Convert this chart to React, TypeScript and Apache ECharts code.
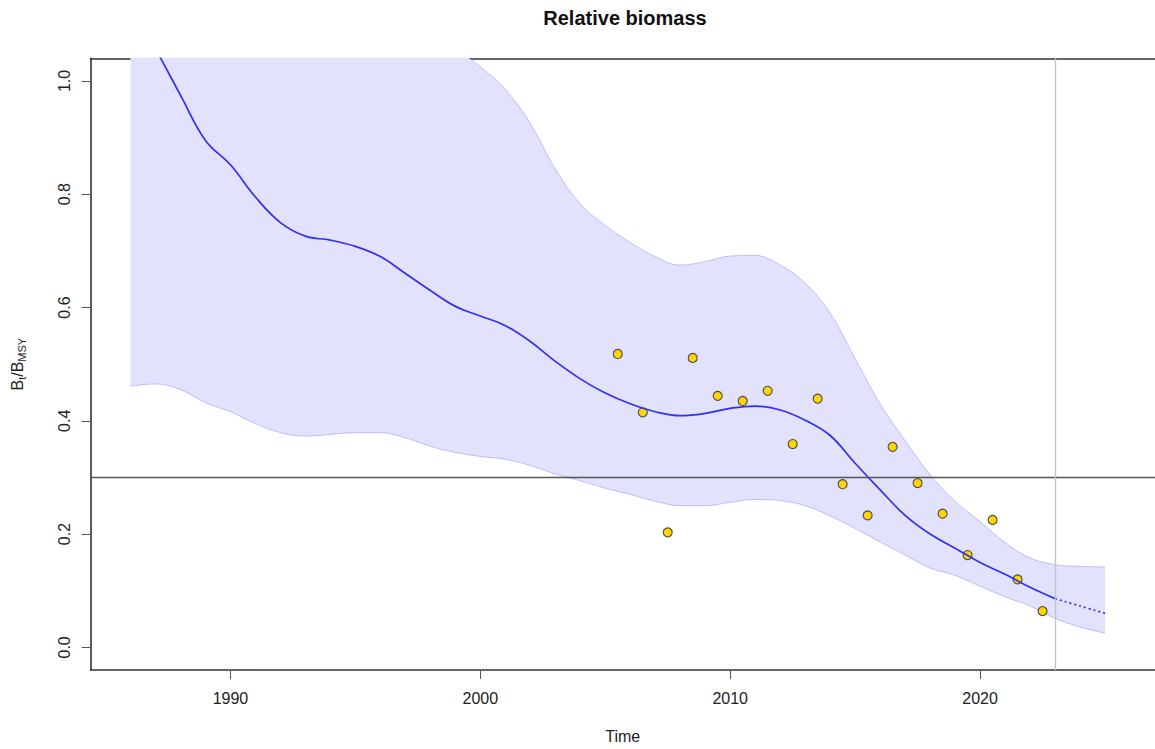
import React, { useEffect, useRef } from "react";
import * as echarts from "echarts";

// Estimated trajectory (B_t / B_MSY), yearly
const years: number[] = [
  1986, 1987, 1988, 1989, 1990, 1991, 1992, 1993, 1994, 1995,
  1996, 1997, 1998, 1999, 2000, 2001, 2002, 2003, 2004, 2005,
  2006, 2007, 2008, 2009, 2010, 2011, 2012, 2013, 2014, 2015,
  2016, 2017, 2018, 2019, 2020, 2021, 2022, 2023, 2024, 2025,
];
const median: number[] = [
  1.135, 1.057, 0.975, 0.895, 0.852, 0.795, 0.75, 0.726, 0.719, 0.708,
  0.69, 0.66, 0.63, 0.602, 0.585, 0.568, 0.54, 0.505, 0.474, 0.449,
  0.43, 0.416, 0.409, 0.413, 0.422, 0.426, 0.419, 0.401, 0.374, 0.325,
  0.278, 0.233, 0.2, 0.175, 0.15, 0.129, 0.106, 0.086, 0.073, 0.06,
];
const upper: number[] = [
  1.8, 1.75, 1.65, 1.55, 1.45, 1.4, 1.35, 1.3, 1.25, 1.22,
  1.18, 1.13, 1.09, 1.058, 1.025, 0.985, 0.925, 0.845, 0.783, 0.745,
  0.715, 0.69, 0.675, 0.681, 0.691, 0.692, 0.675, 0.643, 0.59, 0.51,
  0.43, 0.365, 0.305, 0.258, 0.222, 0.185, 0.158, 0.146, 0.143, 0.142,
];
const lower: number[] = [
  0.461, 0.465, 0.455, 0.432, 0.416, 0.395, 0.379, 0.373, 0.376, 0.379,
  0.379, 0.37, 0.355, 0.344, 0.337, 0.332, 0.321, 0.306, 0.294, 0.281,
  0.27, 0.258, 0.25, 0.25, 0.256, 0.261, 0.259, 0.25, 0.232, 0.21,
  0.186, 0.163, 0.14, 0.127, 0.108, 0.089, 0.073, 0.051, 0.036, 0.025,
];
const lastObservedYear = 2023;

// Observed index points
const obsYears: number[] = [
  2005.5, 2006.5, 2007.5, 2008.5, 2009.5, 2010.5, 2011.5, 2012.5, 2013.5,
  2014.5, 2015.5, 2016.5, 2017.5, 2018.5, 2019.5, 2020.5, 2021.5, 2022.5,
];
const obsValues: number[] = [
  0.518, 0.415, 0.203, 0.511, 0.444, 0.435, 0.453, 0.359, 0.439,
  0.288, 0.233, 0.354, 0.29, 0.236, 0.163, 0.225, 0.12, 0.064,
];

const refLevel = 0.3;
const xTicks: number[] = [1990, 2000, 2010, 2020];
const yTicks: number[] = [0, 0.2, 0.4, 0.6, 0.8, 1.0];

const FONT = "'Liberation Sans', Arial, Helvetica, sans-serif";
const BLUE = "#2f2ffa";
const BAND_FILL = "#e2e2fd";
const BAND_EDGE = "rgba(60,60,255,0.28)";

export default function App() {
  const ref = useRef<HTMLDivElement>(null);

  useEffect(() => {
    if (!ref.current) return;
    const chart = echarts.init(ref.current, null, { renderer: "svg" });

    const lowerData = years.map((y, i) => [y, lower[i]]);
    const upperData = years.map((y, i) => [y, upper[i]]);
    const solidData = years
      .map((y, i) => [y, median[i]])
      .filter((d) => d[0] <= lastObservedYear);
    const dottedData = years
      .map((y, i) => [y, median[i]])
      .filter((d) => d[0] >= lastObservedYear);
    const obsData = obsYears.map((y, i) => [y, obsValues[i]]);

    const option: any = {
      animation: false,
      backgroundColor: "#ffffff",
      title: {
        text: "Relative biomass",
        left: 625,
        top: 8,
        padding: 0,
        textAlign: "center",
        textStyle: {
          fontFamily: FONT,
          fontSize: 20,
          fontWeight: "bold",
          color: "#111",
          lineHeight: 20,
        },
      },
      grid: { left: 90.5, right: -5, top: 58.3, bottom: 78.3, containLabel: false },
      xAxis: [
        {
          type: "value",
          min: 1984.4,
          max: 2027.0,
          name: "Time",
          nameLocation: "middle",
          nameGap: 58,
          nameTextStyle: { fontFamily: FONT, fontSize: 16, color: "#222" },
          axisLine: { show: true, onZero: false, lineStyle: { color: "#333", width: 1.6 } },
          axisTick: {
            show: true,
            length: 9,
            customValues: xTicks,
            lineStyle: { color: "#555", width: 1 },
          },
          axisLabel: {
            customValues: xTicks,
            margin: 20,
            fontFamily: FONT,
            fontSize: 16,
            color: "#222",
            formatter: (v: number) => String(v),
          },
          splitLine: { show: false },
        },
        {
          type: "value",
          position: "top",
          min: 1984.4,
          max: 2027.0,
          axisLine: { show: true, onZero: false, lineStyle: { color: "#333", width: 1.6 } },
          axisTick: { show: false },
          axisLabel: { show: false },
          splitLine: { show: false },
        },
      ],
      yAxis: {
        type: "value",
        min: -0.04,
        max: 1.04,
        name: "{b|B}{s|t}{b|/B}{s|MSY}",
        nameLocation: "middle",
        nameRotate: 90,
        nameGap: 63,
        nameTextStyle: {
          rich: {
            b: { fontFamily: FONT, fontSize: 16, color: "#222", lineHeight: 20, verticalAlign: "middle" },
            s: { fontFamily: FONT, fontSize: 11, color: "#222", lineHeight: 10, verticalAlign: "bottom" },
          },
        },
        axisLine: { show: true, onZero: false, lineStyle: { color: "#333", width: 1.6 } },
        axisTick: {
          show: true,
          length: 9,
          customValues: yTicks,
          lineStyle: { color: "#555", width: 1 },
        },
        axisLabel: {
          customValues: yTicks,
          rotate: 90,
          margin: 18,
          fontFamily: FONT,
          fontSize: 16,
          color: "#222",
          formatter: (v: number) => v.toFixed(1),
        },
        splitLine: { show: false },
      },
      series: [
        {
          name: "upper",
          type: "line",
          data: upperData,
          smooth: 0.4,
          symbol: "none",
          lineStyle: { color: BAND_EDGE, width: 1 },
          areaStyle: { color: BAND_FILL, opacity: 1, origin: "auto" },
          z: 1,
          silent: true,
        },
        {
          name: "lower",
          type: "line",
          data: lowerData,
          smooth: 0.4,
          symbol: "none",
          lineStyle: { color: BAND_EDGE, width: 1 },
          areaStyle: {
            color: "#ffffff",
            opacity: 1,
            origin: "auto",
            shadowColor: "#ffffff",
            shadowOffsetX: -1.5,
            shadowOffsetY: 1.5,
            shadowBlur: 0,
          },
          z: 1,
          silent: true,
        },
        {
          name: "observed",
          type: "scatter",
          data: obsData,
          symbol: "circle",
          symbolSize: 9,
          itemStyle: { color: "#ffd400", borderColor: "#4a4a4a", borderWidth: 1.1, opacity: 1 },
          z: 3,
          markLine: {
            silent: true,
            symbol: "none",
            label: { show: false },
            data: [
              { yAxis: refLevel, lineStyle: { color: "#555", width: 1.4, type: "solid" } },
              { xAxis: lastObservedYear, lineStyle: { color: "#c4c4c4", width: 1.4, type: "solid" } },
            ],
          },
        },
        {
          name: "fit",
          type: "line",
          data: solidData,
          smooth: 0.4,
          symbol: "none",
          lineStyle: { color: BLUE, width: 1.7 },
          z: 4,
        },
        {
          name: "projection",
          type: "line",
          data: dottedData,
          smooth: 0.4,
          symbol: "none",
          lineStyle: { color: BLUE, width: 1.7, type: [2, 3] },
          z: 4,
        },
      ],
    };

    chart.setOption(option);
    return () => chart.dispose();
  }, []);

  return (
    <div
      ref={ref}
      style={{ position: "fixed", left: 0, top: 0, width: 1155, height: 749, background: "#fff" }}
    />
  );
}
